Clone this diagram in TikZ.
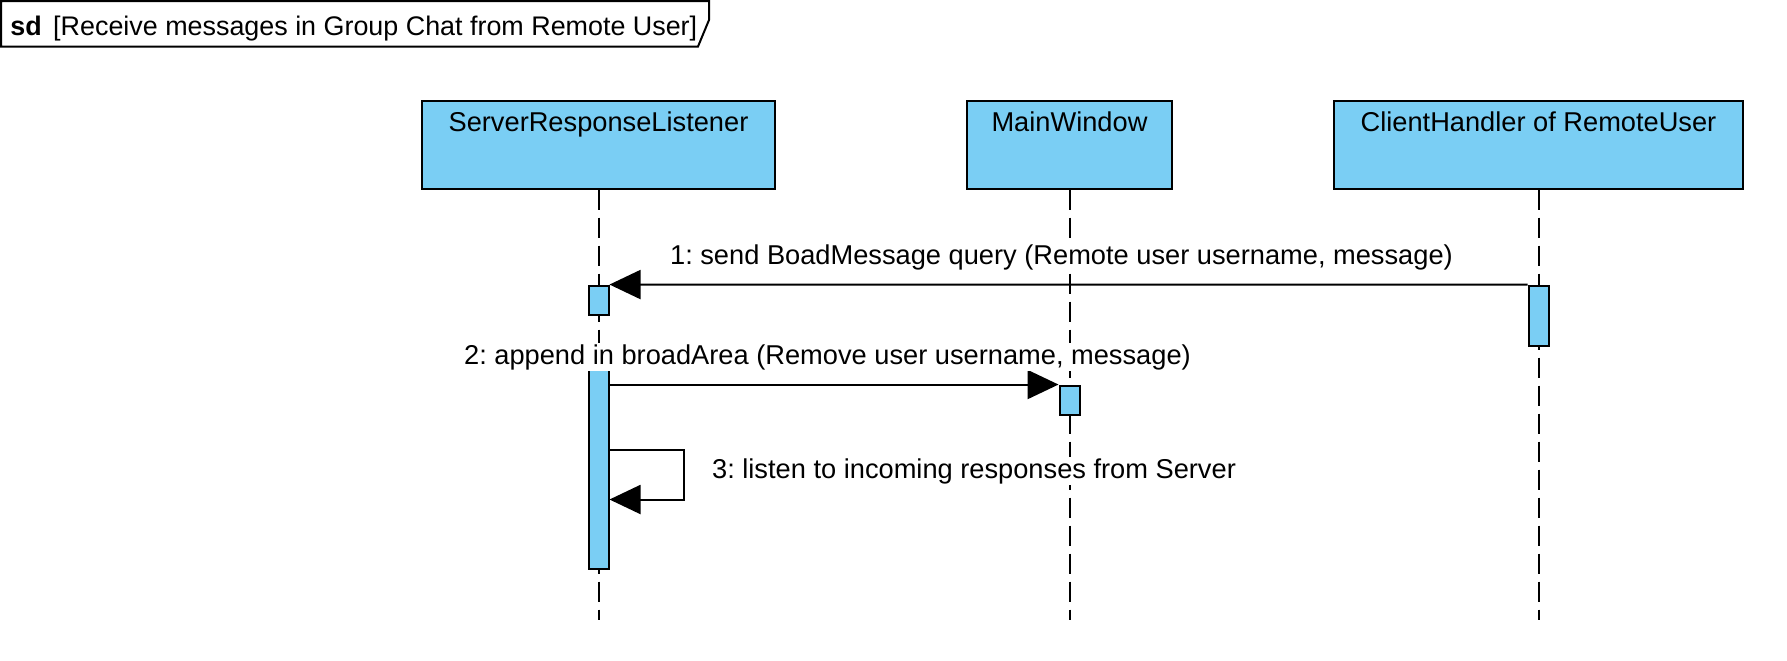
\documentclass[tikz,border=0pt]{standalone}
\usepackage{fontspec}
\setmainfont{Liberation Sans}
\frenchspacing
\usetikzlibrary{arrows.meta,positioning,calc}
\definecolor{lifeblue}{RGB}{122,206,244}

\tikzset{
  part/.style={draw, fill=lifeblue, line width=0.4mm, inner sep=0pt, anchor=north,
    minimum height=17.5mm, text height=6mm, text depth=11.5mm},
  act/.style={draw, fill=lifeblue, line width=0.4mm, inner sep=0pt, minimum width=4mm},
  lifeline/.style={line width=0.4mm, dash pattern=on 4mm off 1.6mm},
  msg/.style={line width=0.4mm, -{Triangle[length=6.2mm, width=5.8mm]}},
  msglabel/.style={fill=white, inner sep=1pt, anchor=base west},
}

\begin{document}
\begin{tikzpicture}[x=0.2mm, y=-0.2mm, font=\fontsize{15.5}{18}\selectfont]
    \useasboundingbox (0,0) rectangle (1787,660);

    % frame label
    \draw[line width=0.4mm] (1,1) -- (709,1) -- (709,20) -- (698,46.5) -- (1,46.5) -- cycle;
    \node[anchor=base west, inner sep=0pt, font=\fontsize{15.3}{18}\selectfont] (title) at (10,35)
        {\textbf{sd}\hspace{2.3mm}[Receive messages in Group Chat from Remote User]};

    % participants
    \node[part, minimum width=70.5mm] (srl) at (598.5,100) {ServerResponseListener};
    \node[part, minimum width=41.1mm] (mw) at (1069.5,100) {MainWindow};
    \node[part, minimum width=81.7mm] (ch) at (1538.5,100) {ClientHandler of RemoteUser};

    \coordinate (srlEnd) at (598.5,620);
    \coordinate (mwEnd) at (1069.5,620);
    \coordinate (chEnd) at (1538.5,620);
    \draw[lifeline] (srl) -- (srlEnd);
    \draw[lifeline] (mw) -- (mwEnd);
    \draw[lifeline] (ch) -- (chEnd);

    % activations
    \node[act, minimum height=5.9mm] (a1) at (598.5,300.3) {};
    \node[act, minimum height=12mm] (a2) at (1538.5,315.6) {};
    \node[act, minimum height=43.4mm] (a3) at (598.5,460.5) {};
    \node[act, minimum height=5.9mm] (a4) at (1069.5,400.3) {};

    % messages
    \draw[msg] (a2.north west) -- (a1.north east);
    \draw[msg] (a3.east |- a4.north) -- (a4.north west);
    \draw[msg] (a3.east |- 0,450) -| (684,499.5) -- (a3.east |- 0,499.5);

    \node[msglabel] (m1) at (668,264) {1: send BoadMessage query (Remote user username, message)};
    \node[msglabel] (m2) at (462,364) {2: append in broadArea (Remove user username, message)};
    \node[msglabel] (m3) at (710,478) {3: listen to incoming responses from Server};
\end{tikzpicture}
\end{document}
